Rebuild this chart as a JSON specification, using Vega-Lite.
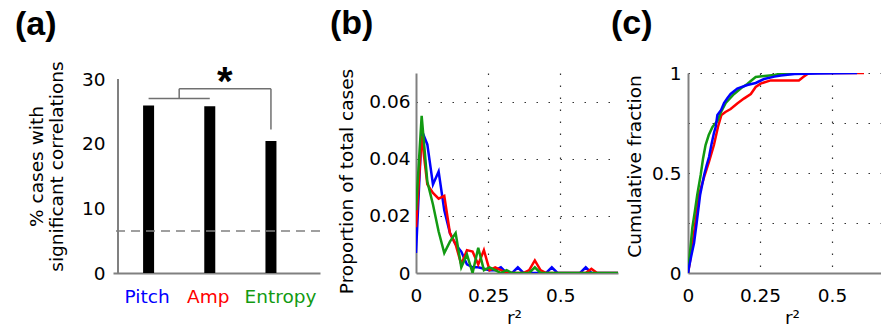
{
  "$schema": "https://vega.github.io/schema/vega-lite/v6.json",
  "padding": {"left": 15, "top": 7, "right": 0, "bottom": 0},
  "config": {
    "view": {"stroke": null},
    "font": "DejaVu Sans",
    "axis": {
      "labelFont": "DejaVu Sans", "labelFontSize": 18.5, "labelColor": "black",
      "titleFont": "DejaVu Sans", "titleFontSize": 18.5, "titleFontWeight": "normal", "titleColor": "black",
      "domainColor": "#808080", "domainWidth": 2, "ticks": false,
      "gridColor": "#333333", "gridDash": [1.5, 10.5], "gridWidth": 1.2,
      "labelPadding": 7, "labelFlush": false, "labelOverlap": false
    },
    "title": {"font": "Liberation Sans", "fontSize": 34, "fontWeight": "bold", "anchor": "start", "frame": "group", "color": "black"}
  },
  "datasets": {
    "bars": [
      {"feature": "Pitch", "pos": 1, "pct": 25.9},
      {"feature": "Amp", "pos": 2, "pct": 25.8},
      {"feature": "Entropy", "pos": 3, "pct": 20.4}
    ],
    "bracket": [
      {"x": 1, "x2": 2, "y": 27, "y2": 27},
      {"x": 1.5, "x2": 1.5, "y": 27, "y2": 28.5},
      {"x": 1.5, "x2": 3, "y": 28.5, "y2": 28.5},
      {"x": 3, "x2": 3, "y": 28.5, "y2": 22.2}
    ],
    "hist": [
      {"feature": "Pitch", "r2": 0, "proportion": 0.007},
      {"feature": "Pitch", "r2": 0.0196, "proportion": 0.05},
      {"feature": "Pitch", "r2": 0.0392, "proportion": 0.045},
      {"feature": "Pitch", "r2": 0.0588, "proportion": 0.031},
      {"feature": "Pitch", "r2": 0.0784, "proportion": 0.0355},
      {"feature": "Pitch", "r2": 0.098, "proportion": 0.022},
      {"feature": "Pitch", "r2": 0.1176, "proportion": 0.014},
      {"feature": "Pitch", "r2": 0.1373, "proportion": 0.01},
      {"feature": "Pitch", "r2": 0.1569, "proportion": 0.0075},
      {"feature": "Pitch", "r2": 0.1765, "proportion": 0.003},
      {"feature": "Pitch", "r2": 0.1961, "proportion": 0.002},
      {"feature": "Pitch", "r2": 0.2157, "proportion": 0.002},
      {"feature": "Pitch", "r2": 0.2353, "proportion": 0.0015},
      {"feature": "Pitch", "r2": 0.2549, "proportion": 0.001},
      {"feature": "Pitch", "r2": 0.2745, "proportion": 0.001},
      {"feature": "Pitch", "r2": 0.2941, "proportion": 0.002},
      {"feature": "Pitch", "r2": 0.3137, "proportion": 0},
      {"feature": "Pitch", "r2": 0.3333, "proportion": 0},
      {"feature": "Pitch", "r2": 0.3529, "proportion": 0.002},
      {"feature": "Pitch", "r2": 0.3725, "proportion": 0},
      {"feature": "Pitch", "r2": 0.3922, "proportion": 0},
      {"feature": "Pitch", "r2": 0.4118, "proportion": 0},
      {"feature": "Pitch", "r2": 0.4314, "proportion": 0},
      {"feature": "Pitch", "r2": 0.451, "proportion": 0},
      {"feature": "Pitch", "r2": 0.4706, "proportion": 0.002},
      {"feature": "Pitch", "r2": 0.4902, "proportion": 0},
      {"feature": "Pitch", "r2": 0.5098, "proportion": 0},
      {"feature": "Pitch", "r2": 0.5294, "proportion": 0},
      {"feature": "Pitch", "r2": 0.549, "proportion": 0},
      {"feature": "Pitch", "r2": 0.5686, "proportion": 0},
      {"feature": "Pitch", "r2": 0.5882, "proportion": 0.002},
      {"feature": "Pitch", "r2": 0.6078, "proportion": 0},
      {"feature": "Pitch", "r2": 0.6275, "proportion": 0},
      {"feature": "Pitch", "r2": 0.6471, "proportion": 0},
      {"feature": "Pitch", "r2": 0.6667, "proportion": 0},
      {"feature": "Pitch", "r2": 0.6863, "proportion": 0},
      {"feature": "Pitch", "r2": 0.7059, "proportion": 0},
      {"feature": "Amp", "r2": 0, "proportion": 0.016},
      {"feature": "Amp", "r2": 0.0196, "proportion": 0.048},
      {"feature": "Amp", "r2": 0.0392, "proportion": 0.031},
      {"feature": "Amp", "r2": 0.0588, "proportion": 0.028},
      {"feature": "Amp", "r2": 0.0784, "proportion": 0.026},
      {"feature": "Amp", "r2": 0.098, "proportion": 0.027},
      {"feature": "Amp", "r2": 0.1176, "proportion": 0.014},
      {"feature": "Amp", "r2": 0.1373, "proportion": 0.01},
      {"feature": "Amp", "r2": 0.1569, "proportion": 0.003},
      {"feature": "Amp", "r2": 0.1765, "proportion": 0.008},
      {"feature": "Amp", "r2": 0.1961, "proportion": 0.0075},
      {"feature": "Amp", "r2": 0.2157, "proportion": 0.003},
      {"feature": "Amp", "r2": 0.2353, "proportion": 0.008},
      {"feature": "Amp", "r2": 0.2549, "proportion": 0.001},
      {"feature": "Amp", "r2": 0.2745, "proportion": 0.002},
      {"feature": "Amp", "r2": 0.2941, "proportion": 0.001},
      {"feature": "Amp", "r2": 0.3137, "proportion": 0},
      {"feature": "Amp", "r2": 0.3333, "proportion": 0},
      {"feature": "Amp", "r2": 0.3529, "proportion": 0},
      {"feature": "Amp", "r2": 0.3725, "proportion": 0},
      {"feature": "Amp", "r2": 0.3922, "proportion": 0.001},
      {"feature": "Amp", "r2": 0.4118, "proportion": 0.0044},
      {"feature": "Amp", "r2": 0.4314, "proportion": 0.001},
      {"feature": "Amp", "r2": 0.451, "proportion": 0},
      {"feature": "Amp", "r2": 0.4706, "proportion": 0},
      {"feature": "Amp", "r2": 0.4902, "proportion": 0},
      {"feature": "Amp", "r2": 0.5098, "proportion": 0},
      {"feature": "Amp", "r2": 0.5294, "proportion": 0},
      {"feature": "Amp", "r2": 0.549, "proportion": 0},
      {"feature": "Amp", "r2": 0.5686, "proportion": 0},
      {"feature": "Amp", "r2": 0.5882, "proportion": 0},
      {"feature": "Amp", "r2": 0.6078, "proportion": 0.0015},
      {"feature": "Amp", "r2": 0.6275, "proportion": 0},
      {"feature": "Amp", "r2": 0.6471, "proportion": 0},
      {"feature": "Amp", "r2": 0.6667, "proportion": 0},
      {"feature": "Amp", "r2": 0.6863, "proportion": 0},
      {"feature": "Amp", "r2": 0.7059, "proportion": 0},
      {"feature": "Entropy", "r2": 0, "proportion": 0.022},
      {"feature": "Entropy", "r2": 0.0196, "proportion": 0.055},
      {"feature": "Entropy", "r2": 0.0392, "proportion": 0.032},
      {"feature": "Entropy", "r2": 0.0588, "proportion": 0.024},
      {"feature": "Entropy", "r2": 0.0784, "proportion": 0.0145},
      {"feature": "Entropy", "r2": 0.098, "proportion": 0.007},
      {"feature": "Entropy", "r2": 0.1176, "proportion": 0.011},
      {"feature": "Entropy", "r2": 0.1373, "proportion": 0.014},
      {"feature": "Entropy", "r2": 0.1569, "proportion": 0.002},
      {"feature": "Entropy", "r2": 0.1765, "proportion": 0.0065},
      {"feature": "Entropy", "r2": 0.1961, "proportion": 0},
      {"feature": "Entropy", "r2": 0.2157, "proportion": 0.0088},
      {"feature": "Entropy", "r2": 0.2353, "proportion": 0.001},
      {"feature": "Entropy", "r2": 0.2549, "proportion": 0.002},
      {"feature": "Entropy", "r2": 0.2745, "proportion": 0.001},
      {"feature": "Entropy", "r2": 0.2941, "proportion": 0},
      {"feature": "Entropy", "r2": 0.3137, "proportion": 0.001},
      {"feature": "Entropy", "r2": 0.3333, "proportion": 0},
      {"feature": "Entropy", "r2": 0.3529, "proportion": 0},
      {"feature": "Entropy", "r2": 0.3725, "proportion": 0},
      {"feature": "Entropy", "r2": 0.3922, "proportion": 0},
      {"feature": "Entropy", "r2": 0.4118, "proportion": 0.002},
      {"feature": "Entropy", "r2": 0.4314, "proportion": 0},
      {"feature": "Entropy", "r2": 0.451, "proportion": 0},
      {"feature": "Entropy", "r2": 0.4706, "proportion": 0},
      {"feature": "Entropy", "r2": 0.4902, "proportion": 0},
      {"feature": "Entropy", "r2": 0.5098, "proportion": 0},
      {"feature": "Entropy", "r2": 0.5294, "proportion": 0},
      {"feature": "Entropy", "r2": 0.549, "proportion": 0},
      {"feature": "Entropy", "r2": 0.5686, "proportion": 0},
      {"feature": "Entropy", "r2": 0.5882, "proportion": 0},
      {"feature": "Entropy", "r2": 0.6078, "proportion": 0},
      {"feature": "Entropy", "r2": 0.6275, "proportion": 0},
      {"feature": "Entropy", "r2": 0.6471, "proportion": 0},
      {"feature": "Entropy", "r2": 0.6667, "proportion": 0},
      {"feature": "Entropy", "r2": 0.6863, "proportion": 0},
      {"feature": "Entropy", "r2": 0.7059, "proportion": 0}
    ],
    "cdf": [
      {"feature": "Amp", "r2": 0, "fraction": 0},
      {"feature": "Amp", "r2": 0.006, "fraction": 0.05},
      {"feature": "Amp", "r2": 0.013, "fraction": 0.12},
      {"feature": "Amp", "r2": 0.021, "fraction": 0.2},
      {"feature": "Amp", "r2": 0.03, "fraction": 0.3},
      {"feature": "Amp", "r2": 0.038, "fraction": 0.39},
      {"feature": "Amp", "r2": 0.048, "fraction": 0.44},
      {"feature": "Amp", "r2": 0.058, "fraction": 0.49},
      {"feature": "Amp", "r2": 0.073, "fraction": 0.557},
      {"feature": "Amp", "r2": 0.09, "fraction": 0.64},
      {"feature": "Amp", "r2": 0.104, "fraction": 0.73},
      {"feature": "Amp", "r2": 0.116, "fraction": 0.79},
      {"feature": "Amp", "r2": 0.13, "fraction": 0.805},
      {"feature": "Amp", "r2": 0.148, "fraction": 0.82},
      {"feature": "Amp", "r2": 0.171, "fraction": 0.847},
      {"feature": "Amp", "r2": 0.194, "fraction": 0.872},
      {"feature": "Amp", "r2": 0.218, "fraction": 0.895},
      {"feature": "Amp", "r2": 0.235, "fraction": 0.93},
      {"feature": "Amp", "r2": 0.252, "fraction": 0.947},
      {"feature": "Amp", "r2": 0.287, "fraction": 0.963},
      {"feature": "Amp", "r2": 0.385, "fraction": 0.963},
      {"feature": "Amp", "r2": 0.4, "fraction": 0.98},
      {"feature": "Amp", "r2": 0.42, "fraction": 1},
      {"feature": "Amp", "r2": 0.611, "fraction": 1},
      {"feature": "Entropy", "r2": 0, "fraction": 0},
      {"feature": "Entropy", "r2": 0.004, "fraction": 0.06},
      {"feature": "Entropy", "r2": 0.008, "fraction": 0.12},
      {"feature": "Entropy", "r2": 0.015, "fraction": 0.225},
      {"feature": "Entropy", "r2": 0.024, "fraction": 0.31},
      {"feature": "Entropy", "r2": 0.032, "fraction": 0.39},
      {"feature": "Entropy", "r2": 0.044, "fraction": 0.49},
      {"feature": "Entropy", "r2": 0.052, "fraction": 0.57},
      {"feature": "Entropy", "r2": 0.061, "fraction": 0.64},
      {"feature": "Entropy", "r2": 0.072, "fraction": 0.69},
      {"feature": "Entropy", "r2": 0.085, "fraction": 0.73},
      {"feature": "Entropy", "r2": 0.102, "fraction": 0.76},
      {"feature": "Entropy", "r2": 0.113, "fraction": 0.8},
      {"feature": "Entropy", "r2": 0.131, "fraction": 0.85},
      {"feature": "Entropy", "r2": 0.16, "fraction": 0.895},
      {"feature": "Entropy", "r2": 0.185, "fraction": 0.925},
      {"feature": "Entropy", "r2": 0.206, "fraction": 0.945},
      {"feature": "Entropy", "r2": 0.218, "fraction": 0.96},
      {"feature": "Entropy", "r2": 0.235, "fraction": 0.98},
      {"feature": "Entropy", "r2": 0.3, "fraction": 0.99},
      {"feature": "Entropy", "r2": 0.33, "fraction": 1},
      {"feature": "Entropy", "r2": 0.42, "fraction": 1},
      {"feature": "Pitch", "r2": 0, "fraction": 0},
      {"feature": "Pitch", "r2": 0.005, "fraction": 0.04},
      {"feature": "Pitch", "r2": 0.012, "fraction": 0.09},
      {"feature": "Pitch", "r2": 0.021, "fraction": 0.15},
      {"feature": "Pitch", "r2": 0.03, "fraction": 0.25},
      {"feature": "Pitch", "r2": 0.042, "fraction": 0.39},
      {"feature": "Pitch", "r2": 0.056, "fraction": 0.49},
      {"feature": "Pitch", "r2": 0.065, "fraction": 0.54},
      {"feature": "Pitch", "r2": 0.073, "fraction": 0.58},
      {"feature": "Pitch", "r2": 0.081, "fraction": 0.64},
      {"feature": "Pitch", "r2": 0.09, "fraction": 0.7},
      {"feature": "Pitch", "r2": 0.096, "fraction": 0.73},
      {"feature": "Pitch", "r2": 0.102, "fraction": 0.79},
      {"feature": "Pitch", "r2": 0.115, "fraction": 0.815},
      {"feature": "Pitch", "r2": 0.125, "fraction": 0.85},
      {"feature": "Pitch", "r2": 0.137, "fraction": 0.875},
      {"feature": "Pitch", "r2": 0.148, "fraction": 0.895},
      {"feature": "Pitch", "r2": 0.171, "fraction": 0.922},
      {"feature": "Pitch", "r2": 0.206, "fraction": 0.94},
      {"feature": "Pitch", "r2": 0.235, "fraction": 0.95},
      {"feature": "Pitch", "r2": 0.264, "fraction": 0.97},
      {"feature": "Pitch", "r2": 0.3, "fraction": 0.982},
      {"feature": "Pitch", "r2": 0.322, "fraction": 0.988},
      {"feature": "Pitch", "r2": 0.37, "fraction": 0.995},
      {"feature": "Pitch", "r2": 0.45, "fraction": 0.997},
      {"feature": "Pitch", "r2": 0.587, "fraction": 1}
    ]
  },
  "spacing": 9,
  "hconcat": [
    {
      "width": 207,
      "height": 200,
      "title": {"text": "(a)", "dx": -98, "offset": 19},
      "layer": [
        {
          "data": {"name": "bars"},
          "mark": {"type": "bar", "width": 11, "color": "black"},
          "encoding": {
            "x": {
              "field": "pos", "type": "quantitative",
              "scale": {"domain": [0.5, 3.72], "nice": false, "zero": false},
              "axis": {
                "values": [1, 2, 3], "title": null, "grid": false, "labelPadding": 14,
                "labelExpr": "datum.value == 1 ? 'Pitch' : datum.value == 2 ? 'Amp' : 'Entropy'",
                "labelColor": {"condition": [{"test": "datum.value == 1", "value": "#0000ff"}, {"test": "datum.value == 2", "value": "#ff0000"}], "value": "#129a12"},
                "labelOffset": {"condition": {"test": "datum.value == 3", "value": 9}, "value": -2}
              }
            },
            "y": {
              "field": "pct", "type": "quantitative",
              "scale": {"domain": [0, 30.93], "nice": false},
              "axis": {
                "values": [0, 10, 20, 30], "grid": false, "labelPadding": 8, "domain": false,
                "title": ["% cases with", "significant correlations"],
                "titleAngle": -90, "titleAlign": "center", "titleBaseline": "alphabetic",
                "titleX": -71, "titleY": 93, "titleLineHeight": 20
              }
            }
          }
        },
        {
          "data": {"values": [{"x": 0.5, "y": 0, "y2": 30}]},
          "mark": {"type": "rule", "color": "#808080", "strokeWidth": 2},
          "encoding": {
            "x": {"field": "x", "type": "quantitative"},
            "y": {"field": "y", "type": "quantitative"},
            "y2": {"field": "y2"}
          }
        },
        {
          "data": {"values": [{"chance": 6.5}]},
          "mark": {"type": "rule", "color": "#808080", "strokeDash": [9, 6], "strokeWidth": 1.5},
          "encoding": {"y": {"field": "chance", "type": "quantitative"}}
        },
        {
          "data": {"name": "bracket"},
          "mark": {"type": "rule", "color": "#707070", "strokeWidth": 1.5},
          "encoding": {
            "x": {"field": "x", "type": "quantitative"},
            "x2": {"field": "x2"},
            "y": {"field": "y", "type": "quantitative"},
            "y2": {"field": "y2"}
          }
        },
        {
          "data": {"values": [{"x": 2.245, "y": 27.5, "label": "*"}]},
          "mark": {"type": "text", "font": "Liberation Sans", "fontSize": 40, "fontWeight": "bold", "align": "center", "baseline": "alphabetic", "clip": false},
          "encoding": {
            "x": {"field": "x", "type": "quantitative"},
            "y": {"field": "y", "type": "quantitative"},
            "text": {"field": "label"}
          }
        }
      ]
    },
    {
      "spacing": -7,
      "hconcat": [
        {
          "width": 202,
          "height": 200,
          "title": {"text": "(b)", "dx": -86, "offset": 27},
          "data": {"name": "hist"},
          "mark": {"type": "line", "strokeWidth": 2.5, "clip": true},
          "encoding": {
            "x": {
              "field": "r2", "type": "quantitative",
              "scale": {"domain": [0, 0.7], "nice": false},
              "axis": {
                "values": [0, 0.25, 0.5], "labelExpr": "format(datum.value, '~g')", "grid": true, "labelPadding": 13,
                "gridOpacity": {"condition": {"test": "datum.value == 0", "value": 0}, "value": 1},
                "title": "r²", "titleX": 98, "titleY": 50, "titleBaseline": "alphabetic", "titleAlign": "center"
              }
            },
            "y": {
              "field": "proportion", "type": "quantitative",
              "scale": {"domain": [0, 0.07], "nice": false},
              "axis": {
                "values": [0, 0.02, 0.04, 0.06], "labelExpr": "format(datum.value, '~g')", "grid": true, "labelPadding": 6,
                "gridOpacity": {"condition": {"test": "datum.value == 0", "value": 0}, "value": 1},
                "title": "Proportion of total cases",
                "titleAngle": -90, "titleAlign": "center", "titleBaseline": "alphabetic",
                "titleX": -64, "titleY": 108
              }
            },
            "color": {
              "field": "feature", "type": "nominal",
              "scale": {"domain": ["Pitch", "Amp", "Entropy"], "range": ["#0000ff", "#ff0000", "#129a12"]},
              "legend": null
            }
          }
        },
        {
          "width": 193,
          "height": 200,
          "title": {"text": "(c)", "dx": -77, "offset": 23},
          "data": {"name": "cdf"},
          "mark": {"type": "line", "strokeWidth": 2.5, "clip": true},
          "encoding": {
            "x": {
              "field": "r2", "type": "quantitative",
              "scale": {"domain": [0, 0.67], "nice": false},
              "axis": {
                "values": [0, 0.25, 0.5], "labelExpr": "format(datum.value, '~g')", "grid": true, "labelPadding": 13,
                "gridOpacity": {"condition": {"test": "datum.value == 0", "value": 0}, "value": 1},
                "title": "r²", "titleX": 104, "titleY": 50, "titleBaseline": "alphabetic", "titleAlign": "center"
              }
            },
            "y": {
              "field": "fraction", "type": "quantitative",
              "scale": {"domain": [0, 1], "nice": false},
              "axis": {
                "values": [0, 0.25, 0.5, 0.75, 1], "grid": true, "labelPadding": 7,
                "labelExpr": "datum.value == 0.25 || datum.value == 0.75 ? '' : format(datum.value, '~g')",
                "gridOpacity": {"condition": {"test": "datum.value == 0", "value": 0}, "value": 1},
                "title": "Cumulative fraction",
                "titleAngle": -90, "titleAlign": "center", "titleBaseline": "alphabetic",
                "titleX": -48, "titleY": 93
              }
            },
            "color": {
              "field": "feature", "type": "nominal",
              "scale": {"domain": ["Pitch", "Amp", "Entropy"], "range": ["#0000ff", "#ff0000", "#129a12"]},
              "legend": null
            }
          }
        }
      ]
    }
  ]
}
